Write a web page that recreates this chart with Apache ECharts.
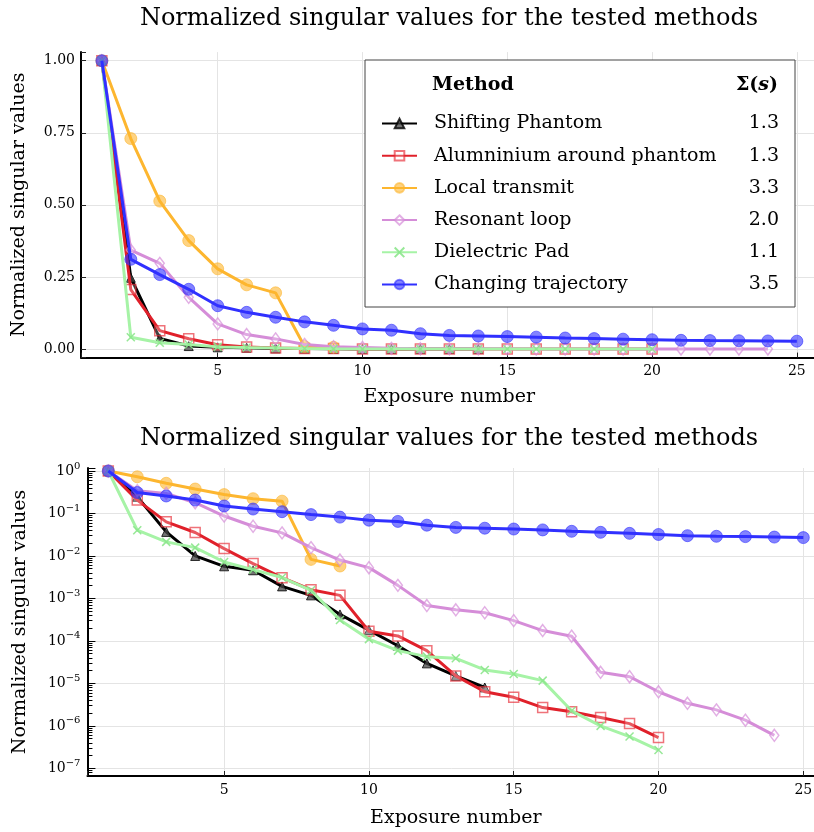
<!DOCTYPE html>
<html><head><meta charset="utf-8">
<script src="https://cdn.jsdelivr.net/npm/echarts@6/dist/echarts.min.js"></script>
<style>html,body{margin:0;padding:0;background:#fff}#c{width:814px;height:832px}</style>
</head><body><div id="c"></div>
<script>
// ---------------- data ----------------
const exposures = [1,2,3,4,5,6,7,8,9,10,11,12,13,14,15,16,17,18,19,20,21,22,23,24,25];
const methodNames = ['Shifting Phantom','Alumninium around phantom','Local transmit','Resonant loop','Dielectric Pad','Changing trajectory'];
const sigmaValues = ['1.3','1.3','3.3','2.0','1.1','3.5'];
const shiftingPhantom = [1, 0.247, 0.0368, 0.0100, 0.0057, 0.0046, 0.00192, 0.00118, 4.2e-4, 1.8e-4, 7.7e-5, 2.96e-5, 1.5e-5, 8.0e-6];
const aluminium = [1, 0.206, 0.0635, 0.0356, 0.0149, 0.0066, 0.00308, 0.0016, 0.00118, 1.69e-4, 1.31e-4, 5.9e-5, 1.5e-5, 6.35e-6, 4.7e-6, 2.7e-6, 2.14e-6, 1.57e-6, 1.13e-6, 5.3e-7];
const localTransmit = [1, 0.73, 0.513, 0.376, 0.278, 0.2225, 0.1947, 0.0083, 0.0058];
const resonantLoop = [1, 0.343, 0.297, 0.179, 0.087, 0.05, 0.0349, 0.0157, 0.008, 0.0053, 0.00203, 6.8e-4, 5.4e-4, 4.6e-4, 3.0e-4, 1.75e-4, 1.29e-4, 1.82e-5, 1.44e-5, 6.35e-6, 3.4e-6, 2.38e-6, 1.36e-6, 6.0e-7];
const dielectricPad = [1, 0.0404, 0.0214, 0.0157, 0.0072, 0.00476, 0.0031, 0.00155, 3.1e-4, 1.1e-4, 5.9e-5, 4.26e-5, 3.9e-5, 2.07e-5, 1.66e-5, 1.16e-5, 2.26e-6, 1.0e-6, 5.6e-7, 2.7e-7];
const changingTrajectory = [1, 0.311, 0.258, 0.207, 0.15, 0.127, 0.11, 0.094, 0.082, 0.0695, 0.065, 0.053, 0.047, 0.045, 0.043, 0.041, 0.038, 0.036, 0.034, 0.032, 0.030, 0.029, 0.0285, 0.0278, 0.027];
const linearTicks = [0, 0.25, 0.5, 0.75, 1.0];
const xTickStep = 5;
const logDecades = [-7,-6,-5,-4,-3,-2,-1,0];
// ---------------------------------------

const FONT = 'DejaVu Serif';
const seriesValues = [shiftingPhantom, aluminium, localTransmit, resonantLoop, dielectricPad, changingTrajectory];
const styles = [
  {line:'#000000', symbol:'triangle', size:9, fill:'rgba(70,70,70,0.75)', border:'rgba(0,0,0,0.8)', bw:1},
  {line:'#e0202a', symbol:'rect', size:10, fill:'rgba(255,255,255,0.25)', border:'rgba(230,40,50,0.65)', bw:1.5},
  {line:'#fdb62f', symbol:'circle', size:12, fill:'rgba(253,182,47,0.6)', border:'rgba(253,182,47,0.6)', bw:1},
  {line:'#d58dd8', symbol:'diamond', size:[9,12], fill:'rgba(255,255,255,0.25)', border:'rgba(213,141,216,0.7)', bw:1.5},
  {line:'#a6f3a6', symbol:'path://M0,0L10,10M10,0L0,10', size:8, fill:'rgba(0,0,0,0)', border:'rgba(140,230,140,0.9)', bw:1.5},
  {line:'#3030ff', symbol:'circle', size:12, fill:'rgba(48,48,255,0.6)', border:'rgba(48,48,255,0.6)', bw:1}
];

const minorLogTicks = [];
for (const d of [-8,-7,-6,-5,-4,-3,-2,-1]) for (const k of [2,3,4,5,6,7,8,9]) minorLogTicks.push(d + Math.log10(k));

const LOGMIN = -7.18, LOGMAX = 0.07;
const gridLine = {show:true, lineStyle:{color:'#e4e4e4', width:1}, showMinLine:false, showMaxLine:false};
const axisLine = {show:true, onZero:false, lineStyle:{color:'#000', width:2}};
const tick = {show:true, inside:true, length:5, lineStyle:{color:'#222', width:1}};
const lbl = {fontFamily:FONT, fontSize:14, color:'#000'};

function xAxisFor(gi, gap){
  return {type:'value', gridIndex:gi, min:0.28, max:25.72, minInterval:xTickStep, maxInterval:xTickStep, splitNumber:5,
    name:'Exposure number', nameLocation:'middle', nameGap:gap,
    nameTextStyle:{fontFamily:FONT, fontSize:19, color:'#000'},
    axisLine, axisTick:tick, splitLine:gridLine,
    axisLabel:{...lbl, margin:7, formatter:v => (Math.abs(v/xTickStep - Math.round(v/xTickStep))<1e-6 && v>0) ? String(Math.round(v)) : ''}};
}

const series = [];
seriesValues.forEach((vals, i) => {
  const s = styles[i];
  const data = vals.map((v, j) => [exposures[j], v]);
  for (const gi of [0,1]) {
    series.push({type:'line', name:methodNames[i], xAxisIndex:gi, yAxisIndex:gi, data,
      symbol:s.symbol, symbolSize:s.size, showSymbol:true, showAllSymbol:true,
      lineStyle:{color:s.line, width:3}, itemStyle:{color:s.fill, borderColor:s.border, borderWidth:s.bw},
      emphasis:{disabled:true}, z:2+i, animation:false});
  }
});

const option = {
  backgroundColor:'#fff',
  animation:false,
  title:[
    {text:'Normalized singular values for the tested methods', left:449, top:5, textAlign:'center', padding:0,
      textStyle:{fontFamily:FONT, fontSize:24, fontWeight:'normal', color:'#000', lineHeight:28}},
    {text:'Normalized singular values for the tested methods', left:449, top:425, textAlign:'center', padding:0,
      textStyle:{fontFamily:FONT, fontSize:24, fontWeight:'normal', color:'#000', lineHeight:28}},
    {text:'Method', left:432, top:73, padding:0, z:10,
      textStyle:{fontFamily:FONT, fontSize:19, fontWeight:'bold', color:'#000', lineHeight:24}},
    {text:'{a|Σ}{b|(}{c|s}{b|)}', right:36, top:73, padding:0, z:10,
      textStyle:{rich:{a:{fontFamily:FONT, fontSize:19, fontWeight:'bold', color:'#000', lineHeight:24},
        b:{fontFamily:FONT, fontSize:19, color:'#000', lineHeight:24},
        c:{fontFamily:FONT, fontSize:19, fontStyle:'italic', color:'#000', lineHeight:24}}}}
  ],
  legend:{
    data:methodNames, orient:'vertical', left:365, top:60, padding:[54,16,13,16],
    backgroundColor:'#fff', borderColor:'#444', borderWidth:1, borderRadius:0,
    itemWidth:35, itemHeight:12, itemGap:13.2, selectedMode:false,
    formatter:name => '{n|' + name + '}{v|' + sigmaValues[methodNames.indexOf(name)] + '}',
    textStyle:{rich:{
      n:{fontFamily:FONT, fontSize:19, color:'#000', width:305, padding:[0,0,0,12], lineHeight:22},
      v:{fontFamily:FONT, fontSize:19, color:'#000', width:40, align:'right', lineHeight:22}}}
  },
  grid:[
    {left:81, top:52.1, width:736.7, height:305.5, outerBoundsMode:'none', containLabel:false},
    {left:87.45, top:468, width:736.7, height:308, outerBoundsMode:'none', containLabel:false}
  ],
  xAxis:[xAxisFor(0, 30), xAxisFor(1, 33)],
  yAxis:[
    {type:'value', gridIndex:0, min:-0.03, max:1.03, minInterval:0.25, maxInterval:0.25, splitNumber:4,
      name:'Normalized singular values', nameLocation:'middle', nameGap:52,
      nameTextStyle:{fontFamily:FONT, fontSize:19, color:'#000'},
      axisLine, axisTick:tick, splitLine:gridLine,
      axisLabel:{...lbl, margin:6, formatter:v => linearTicks.some(t => Math.abs(t-v)<1e-9) ? v.toFixed(2) : ''}},
    {type:'log', logBase:10, gridIndex:1, min:Math.pow(10, LOGMIN), max:Math.pow(10, LOGMAX), splitNumber:5,
      name:'Normalized singular values', nameLocation:'middle', nameGap:58,
      nameTextStyle:{fontFamily:FONT, fontSize:19, color:'#000'},
      axisLine, axisTick:{show:true, inside:true, length:8, lineStyle:{color:'#000', width:1}}, splitLine:gridLine,
      axisLabel:{margin:7, formatter:v => {
          const e = Math.log10(v); const r = Math.round(e);
          if (Math.abs(e-r) > 1e-6 || logDecades.indexOf(r) < 0) return '';
          return '{b|10}{s|' + (r<0 ? '\u2212' + (-r) : r) + '}';
        },
        rich:{b:{fontFamily:FONT, fontSize:14, color:'#000', lineHeight:20, verticalAlign:'middle'},
              s:{fontFamily:FONT, fontSize:10, color:'#000', lineHeight:8, verticalAlign:'top'}}}},
    {type:'value', gridIndex:1, min:LOGMIN, max:LOGMAX, position:'left', offset:0,
      axisLine:{show:false}, axisLabel:{show:false}, splitLine:{show:false},
      axisTick:{show:true, inside:true, length:5, customValues:minorLogTicks, lineStyle:{color:'#000', width:1}}}
  ],
  series
};

const chart = echarts.init(document.getElementById('c'), null, {renderer:'canvas'});
chart.setOption(option);
</script>
</body></html>
